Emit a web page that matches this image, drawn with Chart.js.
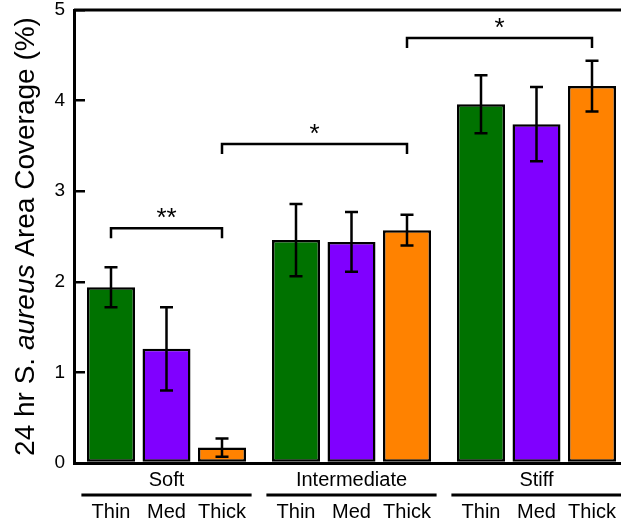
<!DOCTYPE html>
<html>
<head>
<meta charset="utf-8">
<script src="https://cdn.jsdelivr.net/npm/chart.js@4/dist/chart.umd.min.js"></script>
<style>
body { margin: 0; overflow: hidden; background: #fff; }
</style>
</head>
<body>
<canvas id="chartCoverage" width="630" height="523"></canvas>
<script>
// stiffness groups on the x axis, film thickness as series
const groups = ['Soft', 'Intermediate', 'Stiff'];
const thicknesses = ['Thin', 'Med', 'Thick'];

const thinMean = [1.94, 2.46, 3.96];
const medMean = [1.26, 2.44, 3.74];
const thickMean = [0.17, 2.57, 4.16];

const thinErr = [0.22, 0.40, 0.32];
const medErr = [0.46, 0.33, 0.41];
const thickErr = [0.10, 0.17, 0.28];

const yTicks = [0, 1, 2, 3, 4, 5];

// significance brackets: [group, series] at each end
const bracketFrom = [[0, 0], [0, 2], [1, 2]];
const bracketTo = [[0, 2], [1, 2], [2, 2]];
const bracketY = [2.59, 3.52, 4.69];
const bracketText = ['**', '*', '*'];

const FONT = '"Liberation Sans", Arial, sans-serif';
const errs = [thinErr, medErr, thickErr];

const errorBars = {
    id: 'errorBars',
    afterDatasetsDraw(chart) {
        const ctx = chart.ctx;
        const y = chart.scales.y;
        ctx.save();
        ctx.strokeStyle = '#000';
        ctx.lineWidth = 2.5;
        chart.data.datasets.forEach((ds, i) => {
            const meta = chart.getDatasetMeta(i);
            meta.data.forEach((bar, j) => {
                const hi = y.getPixelForValue(ds.data[j] + errs[i][j]);
                const lo = y.getPixelForValue(ds.data[j] - errs[i][j]);
                ctx.beginPath();
                ctx.moveTo(bar.x, hi);
                ctx.lineTo(bar.x, lo);
                ctx.moveTo(bar.x - 6.5, hi);
                ctx.lineTo(bar.x + 6.5, hi);
                ctx.moveTo(bar.x - 6.5, lo);
                ctx.lineTo(bar.x + 6.5, lo);
                ctx.stroke();
            });
        });
        ctx.restore();
    }
};

const decorations = {
    id: 'decorations',
    afterDraw(chart) {
        const ctx = chart.ctx;
        const area = chart.chartArea;
        const x = chart.scales.x;
        const y = chart.scales.y;
        ctx.save();

        // top frame
        ctx.strokeStyle = '#000';
        ctx.lineWidth = 3;
        ctx.beginPath();
        ctx.moveTo(area.left, area.top);
        ctx.lineTo(area.right, area.top);
        ctx.stroke();

        // brackets
        ctx.lineWidth = 2.5;
        ctx.fillStyle = '#000';
        ctx.font = '26px ' + FONT;
        ctx.textAlign = 'center';
        ctx.textBaseline = 'alphabetic';
        bracketY.forEach((v, k) => {
            const a = chart.getDatasetMeta(bracketFrom[k][1]).data[bracketFrom[k][0]].x;
            const b = chart.getDatasetMeta(bracketTo[k][1]).data[bracketTo[k][0]].x;
            const py = y.getPixelForValue(v);
            ctx.beginPath();
            ctx.moveTo(a, py + 10);
            ctx.lineTo(a, py);
            ctx.lineTo(b, py);
            ctx.lineTo(b, py + 10);
            ctx.stroke();
            ctx.fillText(bracketText[k], (a + b) / 2, py - 2);
        });

        // thickness lines and labels under each group
        const catW = x.getPixelForValue(1) - x.getPixelForValue(0);
        ctx.font = '20px ' + FONT;
        ctx.textBaseline = 'middle';
        ctx.lineWidth = 3;
        groups.forEach((g, j) => {
            const c = x.getPixelForValue(j);
            ctx.beginPath();
            ctx.moveTo(c - catW * 0.46, x.top + 32);
            ctx.lineTo(c + catW * 0.46, x.top + 32);
            ctx.stroke();
            thicknesses.forEach((t, i) => {
                const bar = chart.getDatasetMeta(i).data[j];
                ctx.fillText(t, bar.x, x.top + 49);
            });
        });

        // y axis title with italic species name
        const parts = [['24 hr S. ', ''], ['aureus', 'italic '], [' Area Coverage (%)', '']];
        ctx.textAlign = 'left';
        ctx.textBaseline = 'alphabetic';
        let total = 0;
        parts.forEach(p => {
            ctx.font = p[1] + '28px ' + FONT;
            total += ctx.measureText(p[0]).width;
        });
        ctx.translate(34, (area.top + area.bottom) / 2);
        ctx.rotate(-Math.PI / 2);
        let pos = -total / 2;
        parts.forEach(p => {
            ctx.font = p[1] + '28px ' + FONT;
            ctx.fillText(p[0], pos, 0);
            pos += ctx.measureText(p[0]).width;
        });
        ctx.restore();
    }
};

const ctxCoverage = document.getElementById('chartCoverage').getContext('2d');

const chartCoverage = new Chart(ctxCoverage, {
    type: 'bar',
    data: {
        labels: groups,
        datasets: [
            { label: thicknesses[0], data: thinMean, backgroundColor: '#007200' },
            { label: thicknesses[1], data: medMean, backgroundColor: '#8000ff' },
            { label: thicknesses[2], data: thickMean, backgroundColor: '#ff8200' }
        ]
    },
    options: {
        responsive: false,
        animation: false,
        layout: { padding: { top: 10, right: 1, left: 0, bottom: 0 } },
        datasets: {
            bar: {
                borderColor: '#000',
                borderWidth: 2.5,
                borderSkipped: false,
                categoryPercentage: 0.9,
                barPercentage: 0.865
            }
        },
        plugins: {
            legend: { display: false },
            tooltip: { enabled: false }
        },
        scales: {
            x: {
                grid: { drawOnChartArea: false, drawTicks: false },
                border: { display: true, color: '#000', width: 3 },
                ticks: { color: '#000', font: { family: FONT, size: 20 }, padding: 5 },
                afterFit(scale) { scale.height = 60; }
            },
            y: {
                min: 0,
                max: 5,
                afterBuildTicks(scale) { scale.ticks = yTicks.map(v => ({ value: v })); },
                grid: { drawOnChartArea: false, color: '#000', lineWidth: 2.5, tickLength: -11 },
                border: { display: true, color: '#000', width: 3 },
                ticks: { color: '#000', font: { family: FONT, size: 19 }, padding: 20 },
                afterFit(scale) {
                    scale.width = 74;
                    scale.paddingTop = 0;
                    scale.paddingBottom = 0;
                }
            }
        }
    },
    plugins: [errorBars, decorations]
});
</script>
</body>
</html>
